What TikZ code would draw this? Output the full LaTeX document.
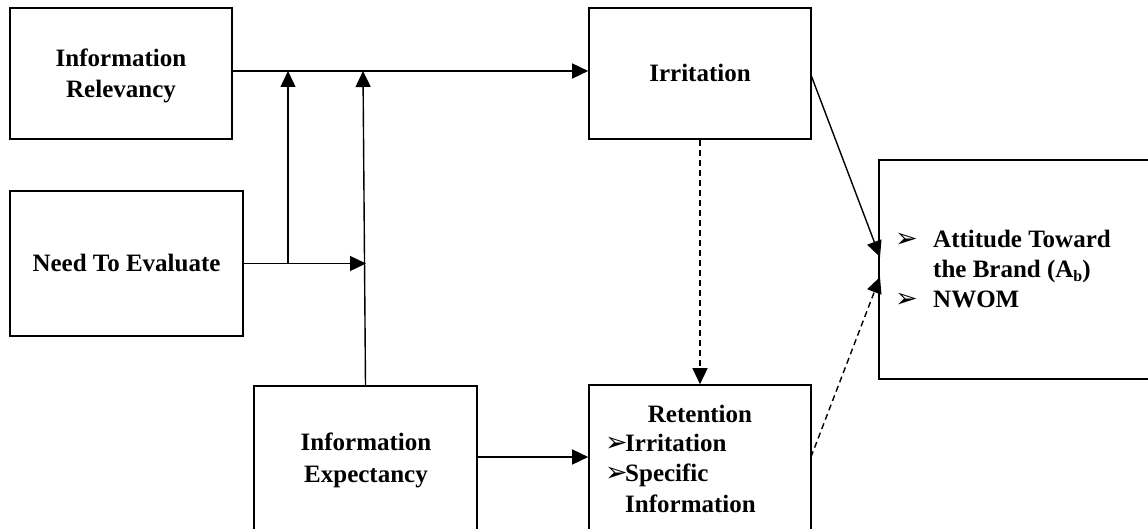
\documentclass[tikz,border=0pt]{standalone}
\usepackage{fontspec}
\setmainfont{Liberation Serif}
\newfontfamily\symfont{DejaVu Sans}
\usetikzlibrary{arrows.meta}

\begin{document}
\begin{tikzpicture}[x=1pt,y=-1pt,
  box/.style={draw,line width=1.6pt,rectangle,inner sep=0pt},
  txt/.style={anchor=base,inner sep=0pt,font=\fontsize{25}{31}\selectfont\bfseries},
  bul/.style={anchor=base west,inner sep=0pt,font=\fontsize{27}{30}\selectfont\symfont},
  link/.style={line width=1.4pt,-{Triangle[length=16pt,width=15pt]}},
  dlink/.style={link,dash pattern=on 6pt off 4pt}]
\useasboundingbox (0,0) rectangle (1148,529);
\clip (0,0) rectangle (1148,529);

% boxes
\node[box,minimum width=222pt,minimum height=131pt] (rel)  at (121,73.5) {};
\node[box,minimum width=233pt,minimum height=145pt] (need) at (126.5,263.5) {};
\node[box,minimum width=223pt,minimum height=159pt] (exp)  at (365.5,465.5) {};
\node[box,minimum width=222pt,minimum height=131pt] (irr)  at (700,73.5) {};
\node[box,minimum width=222pt,minimum height=160pt] (ret)  at (700,465) {};
\node[box,minimum width=281pt,minimum height=219pt] (att)  at (1019.5,269.5) {};

% labels
\node[txt] (relA) at (121,67) {Information};
\node[txt] (relB) at (121,98) {Relevancy};
\node[txt] (needA) at (126.5,272) {Need To Evaluate};
\node[txt] (expA) at (366,450) {Information};
\node[txt] (expB) at (366,482) {Expectancy};
\node[txt] (irrA) at (700,82) {Irritation};
\node[txt] (retA) at (700,422) {Retention};
\node[bul] (retB1) at (605,451) {➢};
\node[txt,anchor=base west] (retB) at (625,451) {Irritation};
\node[bul] (retC1) at (605,481) {➢};
\node[txt,anchor=base west] (retC) at (625,481) {Specific};
\node[txt,anchor=base west] (retD) at (625,512) {Information};
\node[bul] (attA1) at (895,248) {➢};
\node[txt,anchor=base west] (attA) at (933,248) {Attitude Toward};
\node[txt,anchor=base west] (attB) at (933,277) {the Brand (A\raisebox{-5pt}{\fontsize{16}{16}\selectfont b})};
\node[bul] (attC1) at (895,308) {➢};
\node[txt,anchor=base west] (attC) at (933,308) {NWOM};

% junction points
\coordinate (j1) at (288,71);
\coordinate (j2) at (363,71);
\coordinate (k) at (366,263.5);
\coordinate (e1) at (477,457);
\coordinate (s1) at (811,75);
\coordinate (s2) at (811,457);
\coordinate (t1) at (880,257);
\coordinate (t2) at (880,277);

% connectors
\draw[link] (rel.east |- j1) -- (irr.west |- j1);
\draw[link] (need.east -| j1) -- (j1);
\draw[link] (need.east) -- (k);
\draw[link] (exp.north) -- (j2);
\draw[link] (e1) -- (ret.west |- e1);
\draw[dlink] (irr.south) -- (ret.north);
\draw[link] (s1) -- (t1);
\draw[dlink] (s2) -- (t2);
\end{tikzpicture}
\end{document}
